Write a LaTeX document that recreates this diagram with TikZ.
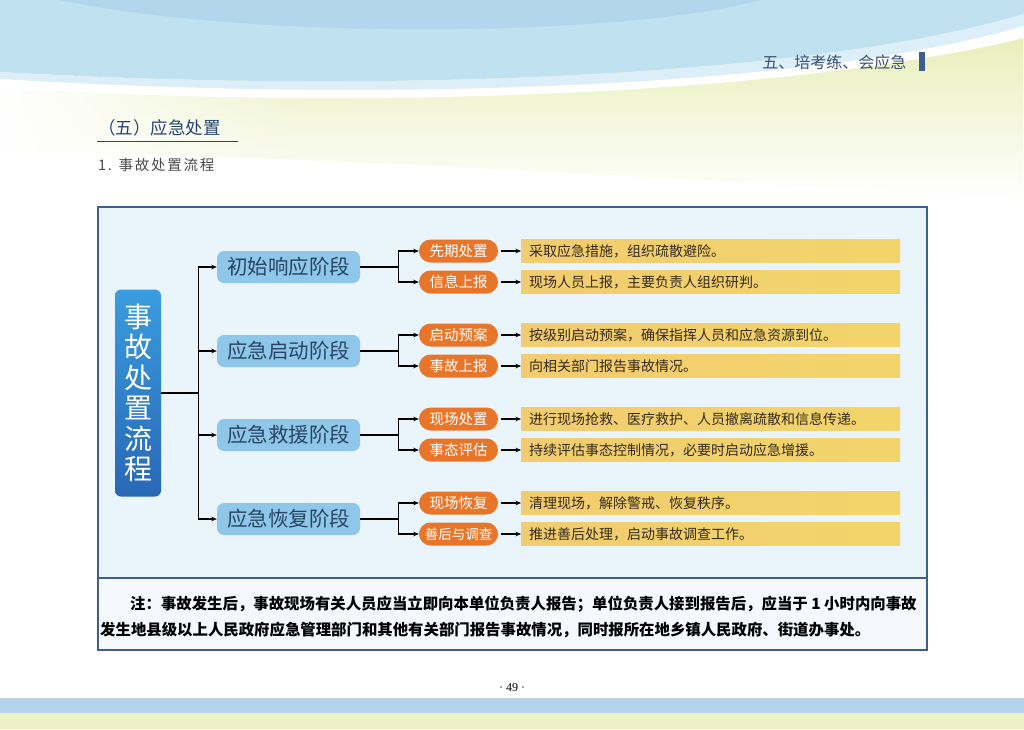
\documentclass[tikz,border=0pt]{standalone}
\usepackage{fontspec}
\setmainfont{Noto Sans CJK SC}
\newfontfamily\numfont{Liberation Serif}
\definecolor{skyband}{RGB}{191,225,240}
\definecolor{skydeep}{RGB}{178,214,236}
\definecolor{leafband}{RGB}{232,239,184}
\definecolor{footblue}{RGB}{181,211,232}
\definecolor{frameblue}{RGB}{62,94,142}
\definecolor{panelbg}{RGB}{234,244,251}
\definecolor{rootlight}{RGB}{58,156,222}
\definecolor{rootdark}{RGB}{40,104,182}
\definecolor{stageblue}{RGB}{142,199,234}
\definecolor{stagetext}{RGB}{40,68,98}
\definecolor{pillorange}{RGB}{232,118,42}
\definecolor{notegold}{RGB}{241,208,118}
\definecolor{notetext}{RGB}{52,42,30}
\definecolor{titleblue}{RGB}{40,70,112}
\usetikzlibrary{arrows.meta,positioning,calc,fadings}
\tikzfading[name=downwash,top color=transparent!0,middle color=transparent!35,bottom color=transparent!100]
\tikzfading[name=leftwash,left color=transparent!0,right color=transparent!100]

\begin{document}
\begin{tikzpicture}[x=1pt,y=-1pt,
  rootbox/.style={rounded corners=6pt,top color=rootlight,bottom color=rootdark,
        text=white,minimum width=46pt,minimum height=207pt,inner sep=0pt,
        align=center,font=\fontsize{28}{30.5}\selectfont},
  stagebox/.style={rounded corners=7pt,fill=stageblue,text=stagetext,
        minimum width=143pt,minimum height=32pt,inner sep=0pt,
        font=\fontsize{20.5}{20.5}\selectfont},
  pill/.style={rounded corners=11.5pt,fill=pillorange,text=white,
        minimum width=79pt,minimum height=23pt,inner sep=0pt,
        font=\fontsize{14.5}{14.5}\selectfont},
  stepnote/.style={left color=notegold!95!orange,right color=notegold!90!yellow,
        text=notetext,anchor=west,minimum width=379pt,
        minimum height=23pt,text width=363pt,inner xsep=8pt,inner ysep=0pt,
        align=left,font=\fontsize{14}{14}\selectfont},
  notetxt/.style={anchor=west,inner sep=0pt,font=\fontsize{15.4}{15.4}\selectfont\bfseries},
  link/.style={line width=1.1pt,black},
  arr/.style={link,-{Stealth[length=5.5pt,width=4.5pt]}}]
\useasboundingbox (0,0) rectangle (1024,729);
  % Page background
  \fill[white] (0,0) rectangle (1024,729);
  \fill[leafband,path fading=downwash] (0,80) -- (1024,30) -- (1024,200)
        .. controls (700,180) and (400,160) .. (0,150) -- cycle;
  \fill[white,path fading=leftwash] (0,60) rectangle (300,215);
  \fill[skyband] (0,0) -- (1024,0) -- (1024,14) .. controls (820,75) and (400,95) .. (0,72) -- cycle;
  \fill[skydeep] (60,0) -- (760,0) .. controls (620,38) and (250,40) .. (60,0) -- cycle;
  \fill[skyband!55!white] (0,72) .. controls (400,95) and (820,75) .. (1024,14)
        -- (1024,26) .. controls (820,86) and (400,104) .. (0,79) -- cycle;
  \fill[white] (0,79) .. controls (400,104) and (820,86) .. (1024,26)
        -- (1024,38) .. controls (800,92) and (400,112) .. (0,88) -- cycle;
  \fill[footblue] (0,698) rectangle (1024,713);
  \fill[leafband!80!white] (0,713) rectangle (1024,729);
  % Header
  \node[anchor=east,text=titleblue!80!gray,font=\fontsize{16}{16}\selectfont]
        (chapter) at (910,62) {五、培考练、会应急};
  \fill[frameblue] (919,52) rectangle (925,71);
  \node[anchor=west,text=titleblue,font=\fontsize{17.5}{17.5}\selectfont,inner sep=0pt]
        (section) at (98,128) {（五）应急处置};
  \draw[titleblue,line width=0.9pt] (97,141) -- (238,141);
  \node[anchor=west,text=black!70,inner sep=0pt,
        font=\fontsize{14.5}{14.5}\selectfont\addfontfeatures{LetterSpace=12}]
        (subsection) at (98,165) {1. 事故处置流程};
  % Frame
  \draw[frameblue,line width=2pt,fill=panelbg] (98,207) rectangle (927,650);
  \fill[panelbg!50!white] (99,579) rectangle (926,649);
  \draw[frameblue,line width=1.6pt] (98,578) -- (927,578);
  % Root node
  \node[rootbox] (root) at (138,393) {事\\故\\处\\置\\流\\程};
  % Stage nodes
  \node[stagebox] (init)    at (288.5,267) {初始响应阶段};
  \node[stagebox] (launch)  at (288.5,351) {应急启动阶段};
  \node[stagebox] (rescue)  at (288.5,435) {应急救援阶段};
  \node[stagebox] (restore) at (288.5,519) {应急恢复阶段};
  % Action pills
  \node[pill] (init1)    at (458.5,251) {先期处置};
  \node[pill] (init2)    at (458.5,282) {信息上报};
  \node[pill] (launch1)  at (458.5,335) {启动预案};
  \node[pill] (launch2)  at (458.5,366) {事故上报};
  \node[pill] (rescue1)  at (458.5,419) {现场处置};
  \node[pill] (rescue2)  at (458.5,450) {事态评估};
  \node[pill] (restore1) at (458.5,503) {现场恢复};
  \node[pill,font=\fontsize{13.5}{13.5}\selectfont] (restore2) at (458.5,534) {善后与调查};
  % Descriptions
  \node[stepnote] (init1t)    at (521,251) {采取应急措施，组织疏散避险。};
  \node[stepnote] (init2t)    at (521,282) {现场人员上报，主要负责人组织研判。};
  \node[stepnote] (launch1t)  at (521,335) {按级别启动预案，确保指挥人员和应急资源到位。};
  \node[stepnote] (launch2t)  at (521,366) {向相关部门报告事故情况。};
  \node[stepnote] (rescue1t)  at (521,419) {进行现场抢救、医疗救护、人员撤离疏散和信息传递。};
  \node[stepnote] (rescue2t)  at (521,450) {持续评估事态控制情况，必要时启动应急增援。};
  \node[stepnote] (restore1t) at (521,503) {清理现场，解除警戒、恢复秩序。};
  \node[stepnote] (restore2t) at (521,534) {推进善后处理，启动事故调查工作。};
  % Arrows
  \draw[link] (root.east) -- ++(37,0) coordinate (trunk);
  \draw[arr] (trunk) |- (init.west);
  \draw[arr] (trunk) |- (launch.west);
  \draw[arr] (trunk) |- (rescue.west);
  \draw[arr] (trunk) |- (restore.west);
  \draw[link] (init.east) -- ++(38,0) coordinate (forkI);
  \draw[arr] (forkI) |- (init1.west);
  \draw[arr] (forkI) |- (init2.west);
  \draw[link] (launch.east) -- ++(38,0) coordinate (forkII);
  \draw[arr] (forkII) |- (launch1.west);
  \draw[arr] (forkII) |- (launch2.west);
  \draw[link] (rescue.east) -- ++(38,0) coordinate (forkIII);
  \draw[arr] (forkIII) |- (rescue1.west);
  \draw[arr] (forkIII) |- (rescue2.west);
  \draw[link] (restore.east) -- ++(38,0) coordinate (forkIV);
  \draw[arr] (forkIV) |- (restore1.west);
  \draw[arr] (forkIV) |- (restore2.west);
  \draw[arr] ([xshift=3pt]init1.east) -- (init1t.west);
  \draw[arr] ([xshift=3pt]init2.east) -- (init2t.west);
  \draw[arr] ([xshift=3pt]launch1.east) -- (launch1t.west);
  \draw[arr] ([xshift=3pt]launch2.east) -- (launch2t.west);
  \draw[arr] ([xshift=3pt]rescue1.east) -- (rescue1t.west);
  \draw[arr] ([xshift=3pt]rescue2.east) -- (rescue2t.west);
  \draw[arr] ([xshift=3pt]restore1.east) -- (restore1t.west);
  \draw[arr] ([xshift=3pt]restore2.east) -- (restore2t.west);
  % Note
  \node[notetxt] (note1) at (130,604)
        {注：事故发生后，事故现场有关人员应当立即向本单位负责人报告；单位负责人接到报告后，应当于 1 小时内向事故};
  \node[notetxt] (note2) at (100,630)
        {发生地县级以上人民政府应急管理部门和其他有关部门报告事故情况，同时报所在地乡镇人民政府、街道办事处。};
  % Page number
  \node[font=\numfont\fontsize{12}{12}\selectfont] (page) at (512,688) {· 49 ·};
\end{tikzpicture}
\end{document}
